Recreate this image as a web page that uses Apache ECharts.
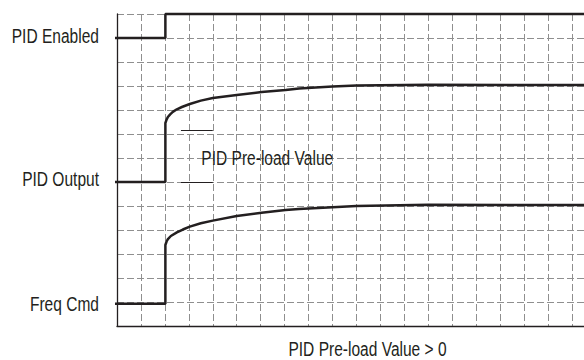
<!DOCTYPE html>
<html>
<head>
<meta charset="utf-8">
<script src="https://cdn.jsdelivr.net/npm/echarts@6/dist/echarts.min.js"></script>
<style>html,body{margin:0;padding:0;background:#fff}#c{width:584px;height:360px}</style>
</head>
<body>
<div id="c"></div>
<script>
// ---- data ----
const rowLevels = [12, 6, 1];
const rowLabels = ['PID Enabled', 'PID Output', 'Freq Cmd'];
const enabledX = [-0.17, 2.02, 2.02, 19.5];
const enabledY = [12, 12, 13, 13];
const outputX = [-0.17, 2.02, 2.02, 2.07, 2.125, 2.22, 2.33, 2.5, 2.71, 3.04, 3.5, 4, 5, 6.04, 7.04, 7.6, 9, 10, 13, 19.5];
const outputY = [6, 6, 8.46, 8.6, 8.71, 8.82, 8.92, 9.03, 9.125, 9.25, 9.39, 9.5, 9.625, 9.75, 9.83, 9.9, 9.98, 10.02, 10.05, 10.04];
const freqX = [-0.17, 2.02, 2.02, 2.07, 2.125, 2.25, 2.5, 2.75, 3.04, 3.5, 4, 5, 6.04, 7.04, 7.6, 9, 10, 13, 19.5];
const freqY = [0.93, 0.93, 3.375, 3.52, 3.62, 3.75, 3.9, 4.02, 4.14, 4.28, 4.39, 4.58, 4.72, 4.83, 4.88, 4.95, 5.0, 5.05, 5.04];
const preloadTop = 8.17, preloadBottom = 6, preloadX0 = 2.67, preloadX1 = 4;
const preloadLabel = 'PID Pre-load Value';
const preloadLabelAt = [3.5, 7.0];
const bottomTitle = 'PID Pre-load Value > 0';

const zip = (xs, ys) => xs.map((x, i) => [x, ys[i]]);
const FONT_FAMILY = '"Liberation Sans", Arial, sans-serif';
const FONT_SIZE = 21;
const SQUEEZE = 0.74;   // condensed look of the original typeface
const INK = '#231f20';
const GRID = '#8f8f8f';

const chart = echarts.init(document.getElementById('c'), null, {renderer: 'svg'});
const lineStyle = {color: INK, width: 2.5};
chart.setOption({
  animation: false,
  backgroundColor: '#fff',
  grid: {left: 117, right: 0, top: 14, bottom: 34, containLabel: false, outerBoundsMode: 'none'},
  xAxis: {
    type: 'value', min: 0, max: 19.5, interval: 1,
    axisLine: {show: true, lineStyle: {color: INK, width: 1.3}},
    axisTick: {show: false}, axisLabel: {show: false},
    splitLine: {show: true, lineStyle: {color: GRID, type: [7, 3], width: 1}}
  },
  yAxis: {
    type: 'value', min: 0, max: 13, interval: 1,
    axisLine: {show: true, lineStyle: {color: INK, width: 1.3}},
    axisTick: {show: false}, axisLabel: {show: false},
    splitLine: {show: true, lineStyle: {color: GRID, type: [7, 3], width: 1}}
  },
  series: [
    {type: 'line', data: zip(enabledX, enabledY), showSymbol: false, clip: false, lineStyle, z: 5},
    {type: 'line', data: zip(outputX, outputY), showSymbol: false, clip: false, lineStyle, z: 5,
     markLine: {
       silent: true, symbol: 'none', label: {show: false},
       lineStyle: {color: INK, width: 1, type: 'solid'},
       data: [
         [{coord: [preloadX0, preloadTop]}, {coord: [preloadX1, preloadTop]}],
         [{coord: [preloadX0, preloadBottom]}, {coord: [preloadX1, preloadBottom]}]
       ]
     }},
    {type: 'line', data: zip(freqX, freqY), showSymbol: false, clip: false, lineStyle, z: 5}
  ]
});

// text drawn as real (SVG) text, squeezed horizontally to mimic the condensed face
function txt(text, x, y, align) {
  return {
    type: 'text', x: x, y: y, scaleX: SQUEEZE, z: 100, silent: true,
    style: {text: text, fill: INK, font: FONT_SIZE + 'px ' + FONT_FAMILY,
            textAlign: align, textVerticalAlign: 'middle'}
  };
}
const labelDy = [-2, -3.7, 2];
const gridLeft = chart.convertToPixel({gridIndex: 0}, [0, 0])[0];
const els = rowLevels.map((lv, i) => {
  const p = chart.convertToPixel({gridIndex: 0}, [0, lv]);
  return txt(rowLabels[i], gridLeft - 18, p[1] + labelDy[i], 'right');
});
const a = chart.convertToPixel({gridIndex: 0}, preloadLabelAt);
els.push(txt(preloadLabel, a[0] + 0.5, a[1], 'left'));
const xMid = chart.convertToPixel({gridIndex: 0}, [0, 0]);
els.push(txt(bottomTitle, 367.5, xMid[1] + 23, 'center'));
chart.setOption({graphic: {elements: els}});
</script>
</body>
</html>
